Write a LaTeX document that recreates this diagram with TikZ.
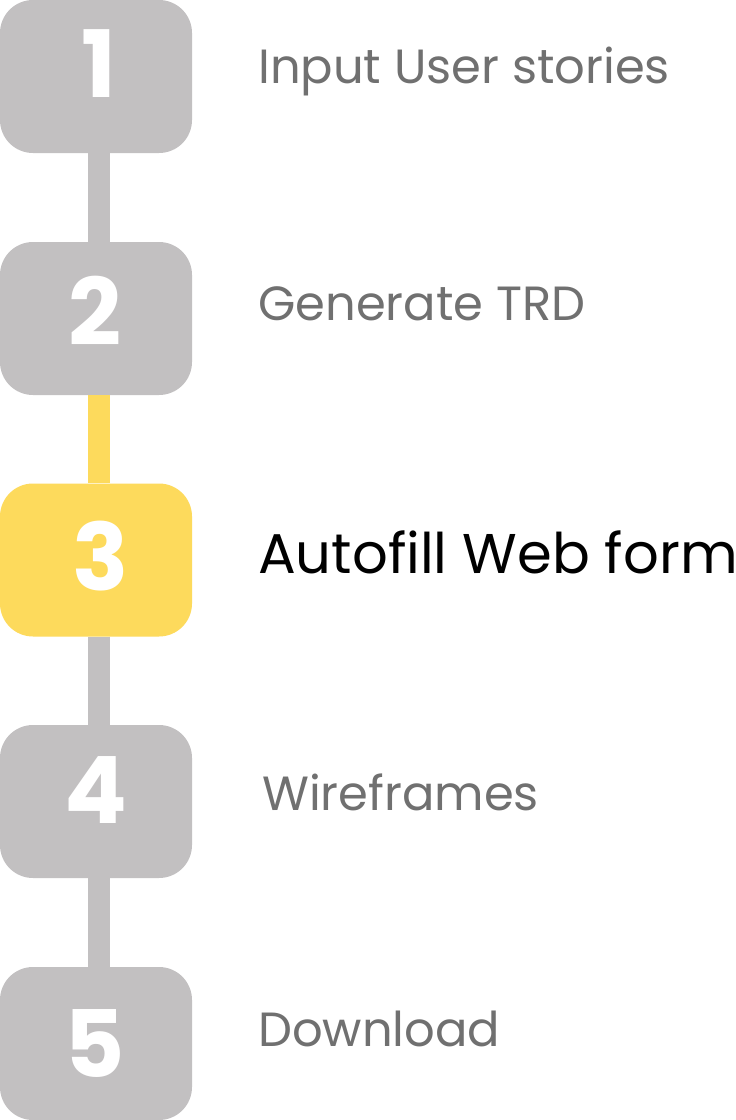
\documentclass[tikz,border=0pt]{standalone}
\usepackage{fontspec}
\setmainfont{Poppins}
\begin{document}
\begin{tikzpicture}[x=1pt,y=-1pt,
  stepbox/.style={rectangle,rounded corners=33pt,minimum width=192pt,minimum height=153pt,inner sep=0pt,fill=boxgray},
  digit/.style={anchor=base,inner sep=0pt,text=white,font=\fontsize{93}{93}\selectfont\bfseries},
  lbl/.style={anchor=base west,inner sep=0pt,text=labelgray,font=\fontsize{48}{48}\selectfont},
  link/.style={line width=22pt,draw=boxgray}]
\definecolor{boxgray}{HTML}{C2C0C1}
\definecolor{hl}{HTML}{FDDA5C}
\definecolor{labelgray}{HTML}{707070}
\useasboundingbox[fill=white] (0,0) rectangle (736,1120);
\node[stepbox] (b1) at (96,76.5) {};
\node[stepbox] (b2) at (96,318.5) {};
\node[stepbox,fill=hl] (b3) at (96,560) {};
\node[stepbox] (b4) at (96,801.5) {};
\node[stepbox] (b5) at (96,1043.5) {};
\draw[link] ([xshift=3pt]b1.south) -- ([xshift=3pt]b2.north);
\draw[link,draw=hl] ([xshift=3pt]b2.south) -- ([xshift=3pt]b3.north);
\draw[link] ([xshift=3pt]b3.south) -- ([xshift=3pt]b4.north);
\draw[link] ([xshift=3pt]b4.south) -- ([xshift=3pt]b5.north);
\node[digit] (d1) at (98.5,97) {1};
\node[digit] (d2) at (95,345) {2};
\node[digit] (d3) at (101,590) {3};
\node[digit] (d4) at (95.5,823) {4};
\node[digit] (d5) at (95,1077) {5};
\node[lbl] (l1) at (258,83) {Input User stories};
\node[lbl] (l2) at (258,320) {Generate TRD};
\node[lbl,text=black,font=\fontsize{56}{56}\selectfont] (l3) at (258,573) {Autofill Web form};
\node[lbl] (l4) at (262,810) {Wireframes};
\node[lbl] (l5) at (258,1046) {Download};
\end{tikzpicture}
\end{document}
